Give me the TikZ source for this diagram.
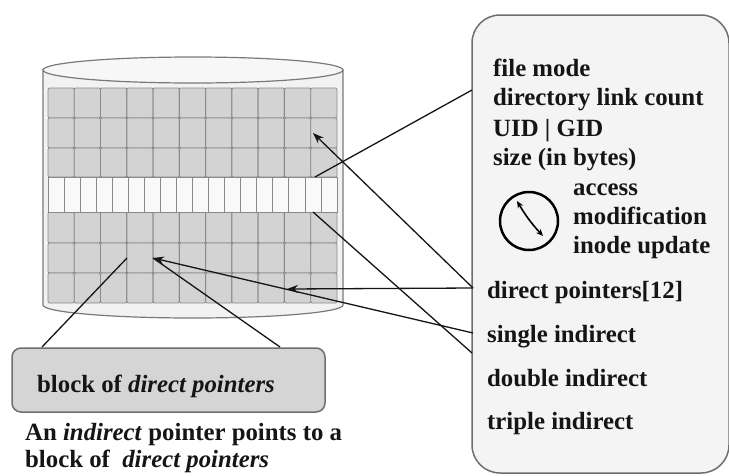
\documentclass[tikz,border=0pt]{standalone}
\usepackage{fontspec}
\setmainfont{Liberation Serif}
\usetikzlibrary{arrows.meta,calc}

\definecolor{cylfill}{HTML}{F2F2F2}
\definecolor{cyltop}{HTML}{F7F7F7}
\definecolor{cylline}{HTML}{7A7A7A}
\definecolor{cellfill}{HTML}{D3D3D3}
\definecolor{cellline}{HTML}{8A8A8A}
\definecolor{stripefill}{HTML}{F9F9F9}
\definecolor{boxfill}{HTML}{F4F4F4}
\definecolor{boxline}{HTML}{6E6E6E}
\definecolor{blockfill}{HTML}{D5D5D5}
\definecolor{ink}{HTML}{151515}

\tikzset{
  cell/.style={fill=cellfill, draw=cellline, line width=0.9pt, rounded corners=1.2pt},
  stripecell/.style={fill=stripefill, draw=cellline, line width=0.9pt},
  label/.style={anchor=base west, inner sep=0pt, text=ink, font=\bfseries\fontsize{24.8}{29}\selectfont},
  wire/.style={draw=ink, line width=1.3pt},
  ptr/.style={wire, -{Stealth[length=11pt,width=8pt]}},
}

\begin{document}
\begin{tikzpicture}[x=1pt,y=-1pt]
\useasboundingbox (0,0) rectangle (729,475);
\fill[white] (0,0) rectangle (729,475);

% disk cylinder
\filldraw[fill=cylfill, draw=cylline, line width=1.2pt]
  (43,70) -- (43,305) arc[start angle=180, end angle=360, x radius=150pt, y radius=13pt] -- (343,70) -- cycle;
\filldraw[fill=cyltop, draw=cylline, line width=1.2pt] (193,70) ellipse[x radius=150pt, y radius=13pt];

% data blocks above and below the inode table
\foreach \r/\ya/\yb in {0/88/118, 1/118/148, 2/148/177, 3/212/243, 4/243/273, 5/273/303} {
  \foreach \c in {0,...,10} {
    \path[cell] ({48+26.27*\c},\ya) rectangle ({48+26.27*(\c+1)},\yb);
  }
}
% inode table stripe
\foreach \c in {0,...,17} {
  \path[stripecell] ({48+16.06*\c},177) rectangle ({48+16.06*(\c+1)},212);
}

% points on the disk
\coordinate (inodeTop) at (315,177);
\coordinate (inodeBot) at (313,212);
\coordinate (blkA) at (313,133);
\coordinate (blkB) at (287,289);
\coordinate (blkC) at (153,258);
\coordinate (blkCl) at (127,258);

% inode record
\filldraw[fill=boxfill, draw=boxline, line width=1.5pt, rounded corners=28pt] (472,15) rectangle (729,473);

\node[label] (mode) at (493,76) {file mode};
\node[label] (links) at (493,105) {directory link count};
\node[label] (ids) at (493,136) {UID | GID};
\node[label] (size) at (493,165) {size (in bytes)};
\node[label] (atime) at (573,195) {access};
\node[label] (mtime) at (573,224) {modification};
\node[label] (ctime) at (573,253) {inode update};
\node[label] (direct) at (487,298) {direct pointers[12]};
\node[label] (single) at (487,342) {single indirect};
\node[label] (double) at (487,386) {double indirect};
\node[label] (triple) at (487,429) {triple indirect};

% clock
\node[circle, draw=black, line width=2.5pt, minimum size=58pt, inner sep=0pt] (clock) at (529,221) {};
\coordinate (handA) at (517,201);
\coordinate (handB) at (543,236);
\draw[line width=1.6pt, {Stealth[length=7pt,width=6pt]}-{Stealth[length=7pt,width=6pt]}] (handA) to[bend right=6] (handB);

% edge points on the inode record
\coordinate (recTop) at (472,90);
\coordinate (recDirect) at (473,288);
\coordinate (recSingle) at (473,333);
\coordinate (recDouble) at (472,353);

% connectors
\draw[wire] (inodeTop) -- (recTop);
\draw[ptr] (recDirect) -- (blkA);
\draw[ptr] (recDirect) -- (blkB);
\draw[ptr] (recSingle) -- (blkC);
\draw[wire] (inodeBot) -- (recDouble);

% indirect block
\filldraw[fill=blockfill, draw=boxline, line width=1.5pt, rounded corners=9pt] (12,348) rectangle (325,412);
\node[label] (blocktext) at (37,392) {block of \textit{direct pointers}};
\coordinate (blockL) at (42,347);
\coordinate (blockR) at (280,347);
\draw[wire] (blockL) -- (blkCl);
\draw[wire] (blockR) -- (blkC);

\node[label] (cap1) at (25,440) {An \textit{indirect} pointer points to a};
\node[label] (cap2) at (25,467) {block of\ \ \textit{direct pointers}};
\end{tikzpicture}
\end{document}
